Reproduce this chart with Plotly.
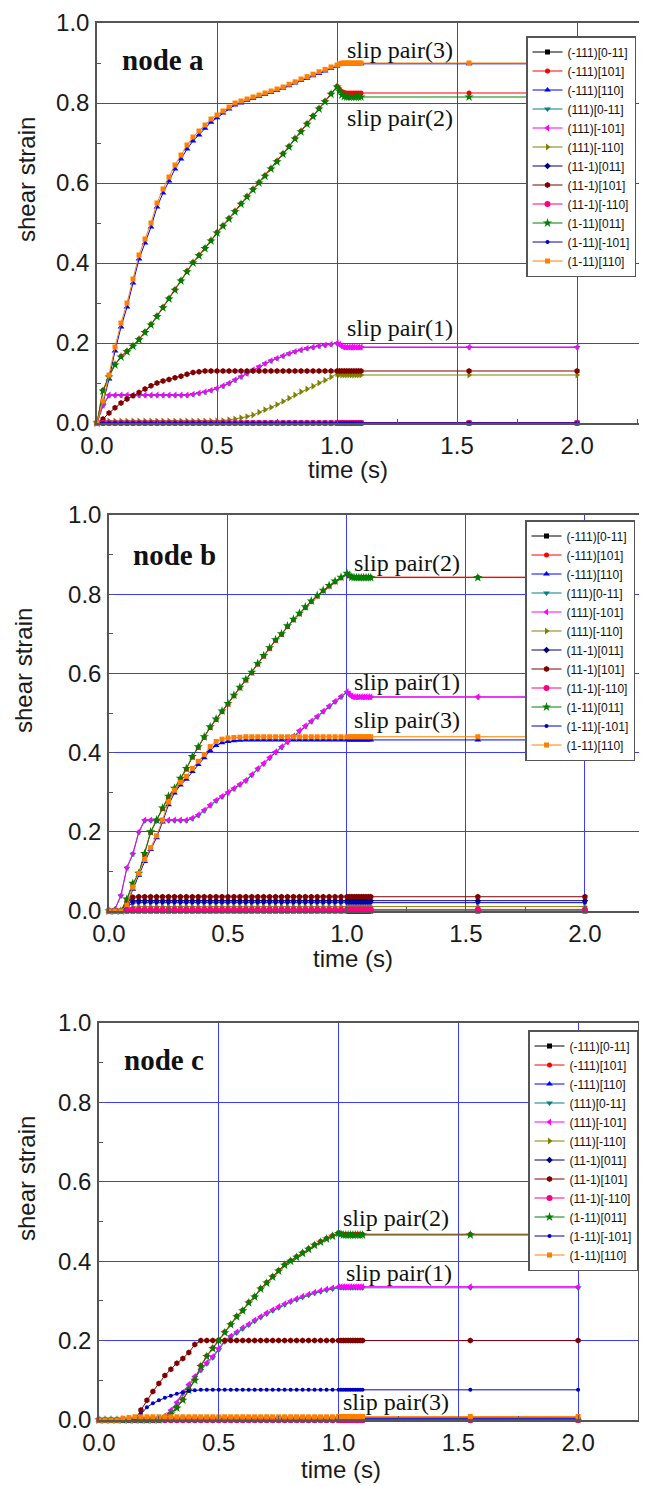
import plotly.graph_objects as go

# ---------------- data ----------------
T = [0.0, 0.025, 0.05, 0.075, 0.1, 0.125, 0.15, 0.175, 0.2, 0.225,
     0.25, 0.275, 0.3, 0.325, 0.35, 0.375, 0.4, 0.425, 0.45, 0.475,
     0.5, 0.525, 0.55, 0.575, 0.6, 0.625, 0.65, 0.675, 0.7, 0.725,
     0.75, 0.775, 0.8, 0.825, 0.85, 0.875, 0.9, 0.925, 0.95, 0.975,
     1.0, 1.01, 1.02, 1.03, 1.04, 1.05, 1.06, 1.07, 1.08, 1.09, 1.1,
     1.55, 2.0]

NAMES = ["(-111)[0-11]", "(-111)[101]", "(-111)[110]", "(111)[0-11]",
         "(111)[-101]", "(111)[-110]", "(11-1)[011]", "(11-1)[101]",
         "(11-1)[-110]", "(1-11)[011]", "(1-11)[-101]", "(1-11)[110]"]

ZERO = [0.0, 0.0, 0.0, 0.0, 0.0, 0.0, 0.0, 0.0, 0.0, 0.0,
        0.0, 0.0, 0.0, 0.0, 0.0, 0.0, 0.0, 0.0, 0.0, 0.0,
        0.0, 0.0, 0.0, 0.0, 0.0, 0.0, 0.0, 0.0, 0.0, 0.0,
        0.0, 0.0, 0.0, 0.0, 0.0, 0.0, 0.0, 0.0, 0.0, 0.0,
        0.0, 0.0, 0.0, 0.0, 0.0, 0.0, 0.0, 0.0, 0.0, 0.0, 0.0,
        0.0, 0.0]

# ---- node a ----
A_orange = [0.0, 0.055, 0.12, 0.19, 0.25, 0.30, 0.36, 0.42, 0.46, 0.50,
            0.55, 0.585, 0.615, 0.645, 0.67, 0.695, 0.715, 0.73, 0.745, 0.76,
            0.77, 0.78, 0.79, 0.80, 0.805, 0.81, 0.815, 0.82, 0.825, 0.83,
            0.835, 0.84, 0.847, 0.853, 0.86, 0.866, 0.872, 0.878, 0.884, 0.89,
            0.895, 0.898, 0.9, 0.9, 0.9, 0.9, 0.9, 0.9, 0.9, 0.9, 0.9,
            0.9, 0.9]
A_blue = [0.0, 0.05, 0.11, 0.18, 0.24, 0.29, 0.35, 0.41, 0.45, 0.49,
          0.54, 0.575, 0.605, 0.635, 0.66, 0.685, 0.705, 0.72, 0.737, 0.752,
          0.763, 0.775, 0.785, 0.795, 0.80, 0.806, 0.811, 0.816, 0.821, 0.826,
          0.831, 0.837, 0.843, 0.85, 0.856, 0.862, 0.868, 0.874, 0.88, 0.886,
          0.892, 0.896, 0.898, 0.898, 0.898, 0.898, 0.898, 0.898, 0.898, 0.898, 0.898,
          0.898, 0.898]
A_green = [0.0, 0.08, 0.115, 0.145, 0.165, 0.178, 0.192, 0.208, 0.226, 0.245,
           0.266, 0.288, 0.31, 0.332, 0.355, 0.378, 0.40, 0.418, 0.436, 0.455,
           0.475, 0.492, 0.51, 0.528, 0.547, 0.565, 0.583, 0.60, 0.617, 0.635,
           0.653, 0.672, 0.69, 0.71, 0.728, 0.747, 0.766, 0.785, 0.803, 0.822,
           0.84, 0.83, 0.82, 0.816, 0.815, 0.815, 0.815, 0.815, 0.815, 0.815, 0.815,
           0.815, 0.815]
A_red = [0.0, 0.082, 0.118, 0.147, 0.167, 0.18, 0.194, 0.21, 0.228, 0.247,
         0.268, 0.29, 0.312, 0.334, 0.357, 0.38, 0.402, 0.42, 0.438, 0.457,
         0.477, 0.494, 0.512, 0.53, 0.549, 0.567, 0.585, 0.602, 0.619, 0.637,
         0.655, 0.674, 0.692, 0.712, 0.73, 0.749, 0.768, 0.787, 0.805, 0.824,
         0.842, 0.835, 0.828, 0.826, 0.825, 0.825, 0.825, 0.825, 0.825, 0.825, 0.825,
         0.825, 0.825]
A_magenta = [0.0, 0.045, 0.07, 0.07, 0.07, 0.07, 0.07, 0.07, 0.07, 0.07,
             0.07, 0.07, 0.07, 0.07, 0.07, 0.07, 0.072, 0.075, 0.078, 0.082,
             0.087, 0.093, 0.10, 0.108, 0.116, 0.124, 0.133, 0.141, 0.149, 0.156,
             0.162, 0.168, 0.174, 0.179, 0.183, 0.187, 0.19, 0.193, 0.195, 0.197,
             0.2, 0.197, 0.193, 0.19, 0.19, 0.19, 0.19, 0.19, 0.19, 0.19, 0.19,
             0.19, 0.19]
A_teal = [0.0, 0.043, 0.068, 0.069, 0.069, 0.069, 0.069, 0.069, 0.069, 0.069,
          0.069, 0.069, 0.069, 0.069, 0.069, 0.069, 0.071, 0.074, 0.077, 0.081,
          0.086, 0.092, 0.099, 0.107, 0.115, 0.123, 0.132, 0.14, 0.148, 0.155,
          0.161, 0.167, 0.173, 0.178, 0.182, 0.186, 0.189, 0.192, 0.194, 0.196,
          0.199, 0.196, 0.192, 0.189, 0.189, 0.189, 0.189, 0.189, 0.189, 0.189, 0.189,
          0.189, 0.189]
A_darkred = [0.0, 0.01, 0.025, 0.038, 0.05, 0.06, 0.068, 0.076, 0.085, 0.093,
             0.1, 0.105, 0.109, 0.113, 0.117, 0.122, 0.126, 0.128, 0.13, 0.13,
             0.13, 0.13, 0.13, 0.13, 0.13, 0.13, 0.13, 0.13, 0.13, 0.13,
             0.13, 0.13, 0.13, 0.13, 0.13, 0.13, 0.13, 0.13, 0.13, 0.13,
             0.13, 0.13, 0.13, 0.13, 0.13, 0.13, 0.13, 0.13, 0.13, 0.13, 0.13,
             0.13, 0.13]
A_olive = [0.0, 0.005, 0.005, 0.005, 0.005, 0.005, 0.005, 0.005, 0.005, 0.005,
           0.005, 0.005, 0.005, 0.005, 0.005, 0.005, 0.005, 0.005, 0.005, 0.005,
           0.005, 0.006, 0.008, 0.01, 0.013, 0.016, 0.02, 0.027, 0.033, 0.039,
           0.046, 0.054, 0.062, 0.07, 0.078, 0.085, 0.092, 0.1, 0.107, 0.115,
           0.123, 0.121, 0.12, 0.12, 0.12, 0.12, 0.12, 0.12, 0.12, 0.12, 0.12,
           0.12, 0.12]

# ---- node b ----
B_green = [0.0, 0.0, 0.0, 0.03, 0.07, 0.095, 0.145, 0.2, 0.23, 0.26,
           0.29, 0.31, 0.335, 0.36, 0.39, 0.415, 0.44, 0.465, 0.485, 0.505,
           0.524, 0.545, 0.565, 0.585, 0.603, 0.625, 0.645, 0.665, 0.685, 0.70,
           0.72, 0.737, 0.752, 0.768, 0.783, 0.797, 0.81, 0.822, 0.833, 0.843,
           0.853, 0.848, 0.843, 0.842, 0.842, 0.842, 0.842, 0.842, 0.842, 0.842, 0.842,
           0.842, 0.842]
B_red = [0.0, 0.0, 0.0, 0.028, 0.068, 0.093, 0.143, 0.198, 0.228, 0.258,
         0.288, 0.308, 0.333, 0.358, 0.388, 0.413, 0.438, 0.463, 0.483, 0.503,
         0.522, 0.543, 0.563, 0.583, 0.601, 0.623, 0.643, 0.663, 0.683, 0.698,
         0.718, 0.735, 0.75, 0.766, 0.781, 0.795, 0.808, 0.82, 0.831, 0.841,
         0.851, 0.846, 0.843, 0.843, 0.843, 0.843, 0.843, 0.843, 0.843, 0.843, 0.843,
         0.843, 0.843]
B_orange = [0.0, 0.0, 0.0, 0.015, 0.06, 0.095, 0.13, 0.16, 0.19, 0.23,
            0.275, 0.305, 0.325, 0.34, 0.36, 0.378, 0.395, 0.415, 0.428, 0.434,
            0.437, 0.438, 0.439, 0.44, 0.44, 0.44, 0.44, 0.44, 0.44, 0.44,
            0.44, 0.44, 0.44, 0.44, 0.44, 0.44, 0.44, 0.44, 0.44, 0.44,
            0.44, 0.44, 0.44, 0.44, 0.44, 0.44, 0.44, 0.44, 0.44, 0.44, 0.44,
            0.44, 0.44]
B_blue = [0.0, 0.0, 0.0, 0.012, 0.055, 0.09, 0.125, 0.155, 0.185, 0.225,
          0.268, 0.298, 0.318, 0.333, 0.352, 0.37, 0.387, 0.405, 0.418, 0.425,
          0.428, 0.43, 0.431, 0.432, 0.432, 0.432, 0.432, 0.432, 0.432, 0.432,
          0.432, 0.432, 0.432, 0.432, 0.432, 0.432, 0.432, 0.432, 0.432, 0.432,
          0.432, 0.432, 0.432, 0.432, 0.432, 0.432, 0.432, 0.432, 0.432, 0.432, 0.432,
          0.432, 0.432]
B_magenta = [0.0, 0.005, 0.04, 0.11, 0.145, 0.2, 0.23, 0.23, 0.23, 0.23,
             0.23, 0.23, 0.23, 0.23, 0.235, 0.243, 0.255, 0.268, 0.28, 0.29,
             0.3, 0.31, 0.32, 0.33, 0.345, 0.36, 0.373, 0.388, 0.402, 0.415,
             0.428, 0.442, 0.456, 0.468, 0.48, 0.492, 0.505, 0.518, 0.53, 0.542,
             0.554, 0.548, 0.543, 0.541, 0.541, 0.541, 0.541, 0.541, 0.541, 0.541, 0.541,
             0.541, 0.541]
B_teal = [0.0, 0.004, 0.038, 0.108, 0.143, 0.198, 0.228, 0.228, 0.228, 0.228,
          0.228, 0.228, 0.228, 0.228, 0.233, 0.241, 0.253, 0.266, 0.278, 0.288,
          0.298, 0.308, 0.318, 0.328, 0.343, 0.358, 0.371, 0.386, 0.4, 0.413,
          0.426, 0.44, 0.454, 0.466, 0.478, 0.49, 0.503, 0.516, 0.528, 0.54,
          0.552, 0.546, 0.542, 0.54, 0.54, 0.54, 0.54, 0.54, 0.54, 0.54, 0.54,
          0.54, 0.54]
B_darkred = [0.0, 0.0, 0.0, 0.02, 0.035, 0.036, 0.036, 0.036, 0.036, 0.036,
             0.036, 0.036, 0.036, 0.036, 0.036, 0.036, 0.036, 0.036, 0.036, 0.036,
             0.036, 0.036, 0.036, 0.036, 0.036, 0.036, 0.036, 0.036, 0.036, 0.036,
             0.036, 0.036, 0.036, 0.036, 0.036, 0.036, 0.036, 0.036, 0.036, 0.036,
             0.036, 0.036, 0.036, 0.036, 0.036, 0.036, 0.036, 0.036, 0.036, 0.036, 0.036,
             0.036, 0.036]
B_navy = [0.0, 0.0, 0.0, 0.015, 0.025, 0.026, 0.026, 0.026, 0.026, 0.026,
          0.026, 0.026, 0.026, 0.026, 0.026, 0.026, 0.026, 0.026, 0.026, 0.026,
          0.026, 0.026, 0.026, 0.026, 0.026, 0.026, 0.026, 0.026, 0.026, 0.026,
          0.026, 0.026, 0.026, 0.026, 0.026, 0.026, 0.026, 0.026, 0.026, 0.026,
          0.026, 0.026, 0.026, 0.026, 0.026, 0.026, 0.026, 0.026, 0.026, 0.026, 0.026,
          0.026, 0.026]
B_blue2 = [0.0, 0.0, 0.0, 0.012, 0.02, 0.021, 0.021, 0.021, 0.021, 0.021,
           0.021, 0.021, 0.021, 0.021, 0.021, 0.021, 0.021, 0.021, 0.021, 0.021,
           0.021, 0.021, 0.021, 0.021, 0.021, 0.021, 0.021, 0.021, 0.021, 0.021,
           0.021, 0.021, 0.021, 0.021, 0.021, 0.021, 0.021, 0.021, 0.021, 0.021,
           0.021, 0.021, 0.021, 0.021, 0.021, 0.021, 0.021, 0.021, 0.021, 0.021, 0.021,
           0.021, 0.021]
B_olive = [0.0, 0.0, 0.0, 0.006, 0.01, 0.011, 0.011, 0.011, 0.011, 0.011,
           0.011, 0.011, 0.011, 0.011, 0.011, 0.011, 0.011, 0.011, 0.011, 0.011,
           0.011, 0.011, 0.011, 0.011, 0.011, 0.011, 0.011, 0.011, 0.011, 0.011,
           0.011, 0.011, 0.011, 0.011, 0.011, 0.011, 0.011, 0.011, 0.011, 0.011,
           0.011, 0.011, 0.011, 0.011, 0.011, 0.011, 0.011, 0.011, 0.011, 0.011, 0.011,
           0.011, 0.011]
B_pink = [0.0, 0.0, 0.0, 0.002, 0.004, 0.004, 0.004, 0.004, 0.004, 0.004,
          0.004, 0.004, 0.004, 0.004, 0.004, 0.004, 0.004, 0.004, 0.004, 0.004,
          0.004, 0.004, 0.004, 0.004, 0.004, 0.004, 0.004, 0.004, 0.004, 0.004,
          0.004, 0.004, 0.004, 0.004, 0.004, 0.004, 0.004, 0.004, 0.004, 0.004,
          0.004, 0.004, 0.004, 0.004, 0.004, 0.004, 0.004, 0.004, 0.004, 0.004, 0.004,
          0.004, 0.004]

# ---- node c ----
C_green = [0.0, 0.0, 0.0, 0.0, 0.0, 0.0, 0.0, 0.0, 0.0, 0.0,
           0.0, 0.005, 0.015, 0.03, 0.05, 0.075, 0.1, 0.135, 0.16, 0.18,
           0.2, 0.22, 0.24, 0.26, 0.275, 0.295, 0.31, 0.33, 0.345, 0.36,
           0.375, 0.39, 0.4, 0.41, 0.42, 0.43, 0.44, 0.448, 0.456, 0.463,
           0.47, 0.468, 0.466, 0.466, 0.466, 0.466, 0.466, 0.466, 0.466, 0.466, 0.466,
           0.466, 0.466]
C_red = [0.0, 0.0, 0.0, 0.0, 0.0, 0.0, 0.0, 0.0, 0.0, 0.0,
         0.0, 0.006, 0.017, 0.032, 0.052, 0.077, 0.102, 0.137, 0.162, 0.182,
         0.202, 0.222, 0.242, 0.262, 0.277, 0.297, 0.312, 0.332, 0.347, 0.362,
         0.377, 0.392, 0.402, 0.412, 0.422, 0.432, 0.442, 0.45, 0.458, 0.465,
         0.472, 0.47, 0.468, 0.468, 0.468, 0.468, 0.468, 0.468, 0.468, 0.468, 0.468,
         0.468, 0.468]
C_magenta = [0.0, 0.0, 0.0, 0.0, 0.0, 0.0, 0.0, 0.0, 0.0, 0.0,
             0.0, 0.01, 0.025, 0.045, 0.07, 0.09, 0.11, 0.128, 0.145, 0.16,
             0.18, 0.2, 0.212, 0.222, 0.233, 0.242, 0.252, 0.261, 0.27, 0.278,
             0.286, 0.293, 0.3, 0.306, 0.312, 0.317, 0.322, 0.326, 0.33, 0.333,
             0.336, 0.336, 0.336, 0.336, 0.336, 0.336, 0.336, 0.336, 0.336, 0.336, 0.336,
             0.336, 0.336]
C_teal = [0.0, 0.0, 0.0, 0.0, 0.0, 0.0, 0.0, 0.0, 0.0, 0.0,
          0.0, 0.008, 0.022, 0.042, 0.067, 0.087, 0.107, 0.125, 0.142, 0.157,
          0.177, 0.197, 0.209, 0.219, 0.23, 0.239, 0.249, 0.258, 0.267, 0.275,
          0.283, 0.29, 0.297, 0.303, 0.309, 0.314, 0.319, 0.323, 0.327, 0.33,
          0.333, 0.333, 0.333, 0.333, 0.333, 0.333, 0.333, 0.333, 0.333, 0.333, 0.333,
          0.333, 0.333]
C_darkred = [0.0, 0.0, 0.0, 0.0, 0.0, 0.0, 0.0, 0.025, 0.05, 0.072,
             0.092, 0.112, 0.128, 0.143, 0.155, 0.17, 0.19, 0.2, 0.2, 0.2,
             0.2, 0.2, 0.2, 0.2, 0.2, 0.2, 0.2, 0.2, 0.2, 0.2,
             0.2, 0.2, 0.2, 0.2, 0.2, 0.2, 0.2, 0.2, 0.2, 0.2,
             0.2, 0.2, 0.2, 0.2, 0.2, 0.2, 0.2, 0.2, 0.2, 0.2, 0.2,
             0.2, 0.2]
C_blue2 = [0.0, 0.0, 0.0, 0.0, 0.0, 0.0, 0.0, 0.015, 0.032, 0.042,
           0.05, 0.056, 0.061, 0.066, 0.07, 0.073, 0.075, 0.076, 0.076, 0.076,
           0.076, 0.076, 0.076, 0.076, 0.076, 0.076, 0.076, 0.076, 0.076, 0.076,
           0.076, 0.076, 0.076, 0.076, 0.076, 0.076, 0.076, 0.076, 0.076, 0.076,
           0.076, 0.076, 0.076, 0.076, 0.076, 0.076, 0.076, 0.076, 0.076, 0.076, 0.076,
           0.076, 0.076]
C_orange = [0.0, 0.0, 0.0, 0.0, 0.004, 0.006, 0.008, 0.008, 0.008, 0.008,
            0.008, 0.008, 0.008, 0.008, 0.008, 0.008, 0.008, 0.008, 0.008, 0.008,
            0.008, 0.008, 0.008, 0.008, 0.008, 0.008, 0.008, 0.008, 0.008, 0.008,
            0.008, 0.008, 0.008, 0.008, 0.008, 0.008, 0.008, 0.008, 0.008, 0.008,
            0.009, 0.009, 0.009, 0.009, 0.009, 0.009, 0.009, 0.009, 0.009, 0.009, 0.009,
            0.009, 0.009]
C_olive = [0.0, 0.0, 0.0, 0.0, 0.003, 0.005, 0.006, 0.006, 0.006, 0.006,
           0.006, 0.006, 0.006, 0.006, 0.006, 0.006, 0.006, 0.006, 0.006, 0.006,
           0.006, 0.006, 0.006, 0.006, 0.006, 0.006, 0.006, 0.006, 0.006, 0.006,
           0.006, 0.006, 0.006, 0.006, 0.006, 0.006, 0.006, 0.006, 0.006, 0.006,
           0.006, 0.006, 0.006, 0.006, 0.006, 0.006, 0.006, 0.006, 0.006, 0.006, 0.006,
           0.006, 0.006]
C_blue = [0.0, 0.0, 0.0, 0.0, 0.002, 0.003, 0.004, 0.004, 0.004, 0.004,
          0.004, 0.004, 0.004, 0.004, 0.004, 0.004, 0.004, 0.004, 0.004, 0.004,
          0.004, 0.004, 0.004, 0.004, 0.004, 0.004, 0.004, 0.004, 0.004, 0.004,
          0.004, 0.004, 0.004, 0.004, 0.004, 0.004, 0.004, 0.004, 0.004, 0.004,
          0.004, 0.004, 0.004, 0.004, 0.004, 0.004, 0.004, 0.004, 0.004, 0.004, 0.004,
          0.004, 0.004]

PANEL_A = [ZERO, A_red, A_blue, A_teal, A_magenta, A_olive,
           ZERO, A_darkred, ZERO, A_green, ZERO, A_orange]
PANEL_B = [ZERO, B_red, B_blue, B_teal, B_magenta, B_olive,
           B_navy, B_darkred, B_pink, B_green, B_blue2, B_orange]
PANEL_C = [ZERO, C_red, C_blue, C_teal, C_magenta, C_olive,
           ZERO, C_darkred, ZERO, C_green, C_blue2, C_orange]

for panel in (PANEL_A, PANEL_B, PANEL_C):
    for s in panel:
        assert len(s) == len(T), len(s)

# ---------------- styling ----------------
COLORS = ["#000000", "#FF0000", "#0000FF", "#008080", "#FF00FF", "#808000",
          "#000080", "#800000", "#FF0080", "#008000", "#0000C0", "#FF8000"]
SYMBOLS = ["square", "circle", "triangle-up", "triangle-down", "triangle-left",
           "triangle-right", "diamond", "hexagon", "circle", "star", "circle",
           "square"]
SIZES = [5, 5, 6, 6, 6, 6, 5, 6, 6, 7, 4, 5]

# The page body keeps the browser's default 8 px margin, so the figure is
# shifted by OFF; all page-pixel positions below are converted with it.
OFF = 8
W, H = 647 - OFF, 1486 - OFF


def px(x):
    return (x - OFF) / W


def py(y):
    return 1 - (y - OFF) / H


# page-pixel boxes of each plot area: (left, right, top, bottom), x max
BOXES = [(97, 639, 23, 423, 2.258), (109, 643, 515, 911, 2.244),
         (99, 638, 1023, 1420, 2.25)]
LEGPOS = [(526, 36), (525, 520), (528, 1030)]
NODE = ["node a", "node b", "node c"]
NODEPOS = [(0.096, 0.9075), (0.092, 0.899), (0.096, 0.907)]
SLIPS = [
    [("slip pair(3)", 1.033, 0.9325), ("slip pair(2)", 1.033, 0.7625),
     ("slip pair(1)", 1.033, 0.2375)],
    [("slip pair(2)", 1.02, 0.879), ("slip pair(1)", 1.02, 0.578),
     ("slip pair(3)", 1.02, 0.482)],
    [("slip pair(2)", 1.01, 0.509), ("slip pair(1)", 1.023, 0.37),
     ("slip pair(3)", 1.01, 0.045)],
]
XTITLE = [(348, 470), (353, 959), (341, 1469)]
YTITLE = [(26, 180), (23, 671), (26, 1179)]

SANS = "Arial, Liberation Sans, sans-serif"
SERIF = "Times New Roman, Liberation Serif, serif"
GRID = "#3b3bff"
FRAME = "#555555"

fig = go.Figure()
panels = [PANEL_A, PANEL_B, PANEL_C]
annotations = []
for p, data in enumerate(panels):
    sfx = "" if p == 0 else str(p + 1)
    leg = "legend" if p == 0 else "legend%d" % (p + 1)
    for k in range(12):
        fig.add_trace(go.Scatter(
            x=T, y=data[k], name=NAMES[k], mode="lines+markers",
            xaxis="x" + sfx, yaxis="y" + sfx, legend=leg,
            line=dict(color=COLORS[k], width=1),
            marker=dict(symbol=SYMBOLS[k], size=SIZES[k], color=COLORS[k],
                        line=dict(width=0)),
            cliponaxis=False))
    l, r, t, b, xmax = BOXES[p]
    axcommon = dict(showline=True, mirror=True, linecolor=FRAME, linewidth=1.5,
                    showgrid=True, gridcolor=GRID, gridwidth=1, zeroline=False,
                    ticks="inside", ticklen=5, tickcolor=FRAME, automargin=False,
                    tickfont=dict(family=SANS, size=24, color="#1a1a1a"),
                    tickformat=".1f")
    fig.update_layout(**{
        "xaxis" + sfx: dict(axcommon, domain=[px(l), px(r)], range=[0, xmax],
                            tick0=0, dtick=0.5, anchor="y" + sfx,
                            minor=dict(dtick=0.25, ticks="inside", ticklen=4,
                                       tickcolor=FRAME, showgrid=False)),
        "yaxis" + sfx: dict(axcommon, domain=[py(b), py(t)], range=[0, 1.0],
                            tick0=0, dtick=0.2, anchor="x" + sfx,
                            ticklabelstandoff=1,
                            minor=dict(dtick=0.1, ticks="inside", ticklen=4,
                                       tickcolor=FRAME, showgrid=False)),
        leg: dict(x=px(LEGPOS[p][0]), y=py(LEGPOS[p][1]), xanchor="left",
                  yanchor="top", bgcolor="white", bordercolor=FRAME,
                  borderwidth=1.5, itemwidth=30,
                  font=dict(family=SANS, size=12, color="#111")),
    })
    annotations.append(dict(text="<b>%s</b>" % NODE[p], x=NODEPOS[p][0],
                            y=NODEPOS[p][1], xref="x" + sfx, yref="y" + sfx,
                            xanchor="left", yanchor="middle", showarrow=False,
                            font=dict(family=SERIF, size=29, color="#111")))
    for txt, xx, yy in SLIPS[p]:
        annotations.append(dict(text=txt, x=xx, y=yy, xref="x" + sfx,
                                yref="y" + sfx, xanchor="left",
                                yanchor="middle", showarrow=False,
                                font=dict(family=SERIF, size=24, color="#111")))
    annotations.append(dict(text="time (s)", x=px(XTITLE[p][0]),
                            y=py(XTITLE[p][1]), xref="paper", yref="paper",
                            xanchor="center", yanchor="middle", showarrow=False,
                            font=dict(family=SANS, size=24, color="#1a1a1a")))
    annotations.append(dict(text="shear strain", x=px(YTITLE[p][0]),
                            y=py(YTITLE[p][1]), xref="paper", yref="paper",
                            xanchor="center", yanchor="middle", textangle=-90,
                            showarrow=False,
                            font=dict(family=SANS, size=24, color="#1a1a1a")))

fig.update_layout(width=W, height=H,
                  margin=dict(l=0, r=0, t=0, b=0, autoexpand=False),
                  paper_bgcolor="white", plot_bgcolor="white",
                  annotations=annotations, showlegend=True)

fig.write_html("out.html")
